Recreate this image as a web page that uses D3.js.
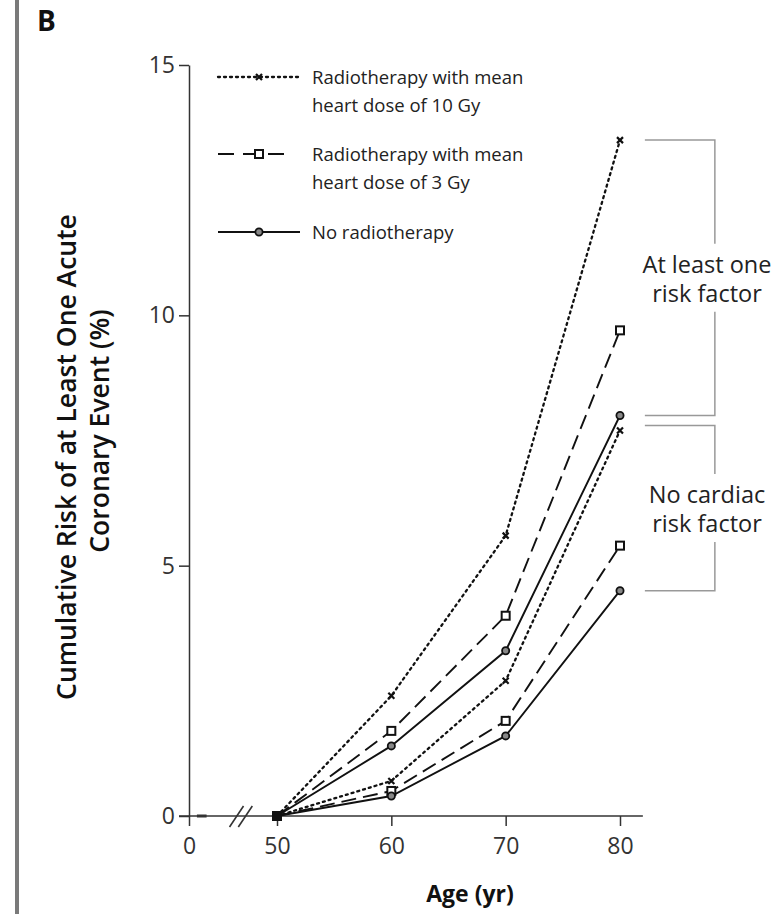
<!DOCTYPE html>
<html>
<head>
<meta charset="utf-8">
<script src="https://cdn.jsdelivr.net/npm/d3@7"></script>
<style>
  body { margin: 0; background: #fff; }
  svg { display: block; font-family: 'Open Sans', sans-serif; }
  .axis text { font-size: 23px; fill: #333; font-family: 'Open Sans', sans-serif; }
  .axis line, .axis path { stroke: #333; stroke-width: 1.5; }
</style>
</head>
<body>
<svg id="chart"></svg>
<script>
// age points and cumulative risk (%)
const ages = [50, 60, 70, 80];
const dose10Risk = [0, 2.4, 5.6, 13.5];
const dose3Risk = [0, 1.7, 4.0, 9.7];
const noneRisk = [0, 1.4, 3.3, 8.0];
const dose10NoRisk = [0, 0.7, 2.7, 7.7];
const dose3NoRisk = [0, 0.5, 1.9, 5.4];
const noneNoRisk = [0, 0.4, 1.6, 4.5];

const xTicks = [0, 50, 60, 70, 80];
const yTicks = [0, 5, 10, 15];

const legendLabels = [
  ['Radiotherapy with mean', 'heart dose of 10 Gy'],
  ['Radiotherapy with mean', 'heart dose of 3 Gy'],
  ['No radiotherapy']
];
const groupLabels = [['At least one', 'risk factor'], ['No cardiac', 'risk factor']];
// bracket extents in % (top, bottom)
const groupTop = [13.5, 7.8];
const groupBottom = [8.0, 4.5];

function makeChart() {
  let w = 782;
  let h = 914;

  let svg = d3.select('#chart')
    .attr('width', w)
    .attr('height', h);

  // broken axis: 0 then jump to 50..80
  let xScale = d3.scaleLinear()
    .domain([0, 50, 80])
    .range([189, 277, 620]);

  let yScale = d3.scaleLinear()
    .domain([0, 15])
    .range([816, 65]);

  // panel bar and letter
  svg.append('rect')
    .attr('x', 15).attr('y', 0)
    .attr('width', 4).attr('height', h)
    .attr('fill', '#7a7a7a');

  svg.append('text')
    .attr('x', 37).attr('y', 31)
    .attr('font-size', '28px')
    .attr('font-weight', 'bold')
    .attr('fill', '#111')
    .text('B');

  // AXES
  svg.append('g')
    .attr('class', 'axis')
    .attr('transform', `translate(${xScale(0)},0)`)
    .call(d3.axisLeft(yScale).tickValues(yTicks).tickSize(10).tickSizeOuter(0).tickPadding(4));

  let xAxis = svg.append('g')
    .attr('class', 'axis')
    .attr('transform', `translate(0,${yScale(0)})`)
    .call(d3.axisBottom(xScale).tickValues(xTicks).tickSize(10).tickSizeOuter(0).tickPadding(12));
  xAxis.select('.domain').remove();

  svg.append('line')
    .attr('x1', xScale(0) - 10).attr('x2', xScale(82))
    .attr('y1', yScale(0)).attr('y2', yScale(0))
    .attr('stroke', '#333').attr('stroke-width', 1.5);

  // small stub and break marks
  svg.append('line')
    .attr('x1', xScale(4.5)).attr('x2', xScale(10))
    .attr('y1', yScale(0)).attr('y2', yScale(0))
    .attr('stroke', '#333').attr('stroke-width', 3);

  [27, 32].forEach((a) => {
    svg.append('line')
      .attr('x1', xScale(a) - 7).attr('y1', yScale(0) + 11)
      .attr('x2', xScale(a) + 7).attr('y2', yScale(0) - 10)
      .attr('stroke', '#333').attr('stroke-width', 1.6);
  });

  // axis titles
  svg.append('text')
    .attr('x', 470).attr('y', 902)
    .attr('text-anchor', 'middle')
    .attr('font-size', '23px')
    .attr('font-weight', 'bold')
    .attr('fill', '#111')
    .text('Age (yr)');

  svg.append('text')
    .attr('transform', 'translate(67,457) rotate(-90)')
    .attr('dy', '0.35em')
    .attr('text-anchor', 'middle')
    .attr('font-size', '26.5px')
    .attr('font-weight', 600)
    .attr('fill', '#111')
    .text('Cumulative Risk of at Least One Acute');

  svg.append('text')
    .attr('transform', 'translate(100,431) rotate(-90)')
    .attr('dy', '0.35em')
    .attr('text-anchor', 'middle')
    .attr('font-size', '26.5px')
    .attr('font-weight', 600)
    .attr('fill', '#111')
    .text('Coronary Event (%)');

  // SERIES
  let styles = [
    { dash: '2,4', marker: 'x' },
    { dash: '15,7', marker: 'square' },
    { dash: null, marker: 'circle' }
  ];
  let series = [
    { values: dose10Risk, style: 0 },
    { values: dose3Risk, style: 1 },
    { values: noneRisk, style: 2 },
    { values: dose10NoRisk, style: 0 },
    { values: dose3NoRisk, style: 1 },
    { values: noneNoRisk, style: 2 }
  ];

  let line = d3.line()
    .x((d) => xScale(d[0]))
    .y((d) => yScale(d[1]));

  function drawMarker(g, type, cx, cy) {
    if (type === 'x') {
      g.append('path')
        .attr('d', `M${cx - 3},${cy - 3}L${cx + 3},${cy + 3}M${cx - 3},${cy + 3}L${cx + 3},${cy - 3}`)
        .attr('stroke', '#111').attr('stroke-width', 2.2);
    } else if (type === 'square') {
      g.append('rect')
        .attr('x', cx - 4).attr('y', cy - 4)
        .attr('width', 8).attr('height', 8)
        .attr('fill', '#fff').attr('stroke', '#111').attr('stroke-width', 2);
    } else {
      g.append('circle')
        .attr('cx', cx).attr('cy', cy).attr('r', 3.6)
        .attr('fill', '#888').attr('stroke', '#111').attr('stroke-width', 1.8);
    }
  }

  let plot = svg.append('g');
  series.forEach((s) => {
    let pts = ages.map((a, i) => [a, s.values[i]]);
    let st = styles[s.style];
    plot.append('path')
      .datum(pts)
      .attr('d', line)
      .attr('fill', 'none')
      .attr('stroke', '#111')
      .attr('stroke-width', st.dash === '2,4' ? 2.3 : 1.9)
      .attr('stroke-linecap', st.dash === '2,4' ? 'round' : 'butt')
      .attr('stroke-dasharray', st.dash);
    pts.slice(1).forEach((p) => drawMarker(plot, st.marker, xScale(p[0]), yScale(p[1])));
  });

  // shared start point at age 50
  plot.append('rect')
    .attr('x', xScale(50) - 5).attr('y', yScale(0) - 5)
    .attr('width', 10).attr('height', 10)
    .attr('fill', '#111');

  // LEGEND
  let legendY = [77, 154, 232];
  legendLabels.forEach((lines, i) => {
    let st = styles[i];
    let ly = legendY[i];
    let x1 = i === 1 ? 290 : 300;
    svg.append('line')
      .attr('x1', 218).attr('x2', x1)
      .attr('y1', ly).attr('y2', ly)
      .attr('stroke', '#111')
      .attr('stroke-width', st.dash === '2,4' ? 2.3 : 1.9)
      .attr('stroke-linecap', st.dash === '2,4' ? 'round' : 'butt')
      .attr('stroke-dasharray', i === 1 ? '16,9' : st.dash);
    drawMarker(svg, st.marker, 259, ly);
    lines.forEach((t, j) => {
      svg.append('text')
        .attr('x', 312).attr('y', ly + 7 + j * 28)
        .attr('font-size', '18.5px')
        .attr('fill', '#222')
        .text(t);
    });
  });

  // BRACKETS
  let bx0 = xScale(82) + 2;
  let bx1 = bx0 + 70;
  groupLabels.forEach((lines, i) => {
    let yt = yScale(groupTop[i]);
    let yb = yScale(groupBottom[i]);
    let mid = (yt + yb) / 2;
    let gap = 34;
    svg.append('path')
      .attr('d', `M${bx0},${yt}H${bx1}V${mid - gap}M${bx1},${mid + gap}V${yb}H${bx0}`)
      .attr('fill', 'none')
      .attr('stroke', '#999')
      .attr('stroke-width', 1.5);
    lines.forEach((t, j) => {
      svg.append('text')
        .attr('x', 707).attr('y', mid - 5 + j * 29)
        .attr('text-anchor', 'middle')
        .attr('font-size', '23.5px')
        .attr('fill', '#222')
        .text(t);
    });
  });
}

window.onload = function () {
  makeChart();
};
</script>
</body>
</html>
